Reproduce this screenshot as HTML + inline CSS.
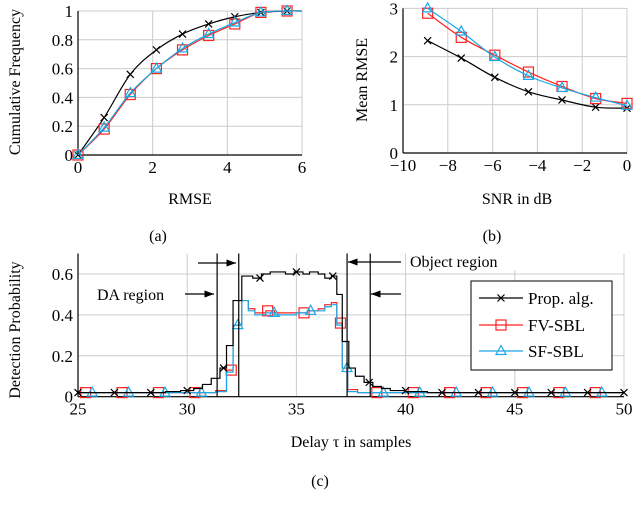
<!DOCTYPE html>
<html><head><meta charset="utf-8"><style>
html,body{margin:0;padding:0;background:#fff;}
svg{display:block;font-family:"Liberation Serif",serif;}
svg text{font-family:"Liberation Serif",serif;}
</style></head><body>
<svg id="s" width="640" height="509" viewBox="0 0 640 509" xmlns="http://www.w3.org/2000/svg"></svg>
<script>
// ---- Chart (a) data
const aX = [0,0.7,1.4,2.1,2.8,3.5,4.2,4.9,5.6];
const aProp = [0,0.26,0.56,0.73,0.84,0.91,0.96,0.99,1];
const aFV = [0,0.18,0.42,0.60,0.73,0.83,0.91,0.99,1];
const aSF = [0,0.19,0.43,0.60,0.74,0.84,0.92,0.99,1];
const aXTicks = [0,2,4,6];
const aYTicks = [0,0.2,0.4,0.6,0.8,1];
// ---- Chart (b) data
const bX = [-8.9,-7.4,-5.9,-4.4,-2.9,-1.4,0];
const bProp = [2.33,1.97,1.57,1.27,1.1,0.95,0.93];
const bFV = [2.9,2.4,2.03,1.68,1.38,1.13,1.03];
const bSF = [3.0,2.52,1.99,1.6,1.35,1.15,0.98];
const bXTicks = [-10,-8,-6,-4,-2,0];
const bYTicks = [0,1,2,3];
// ---- Chart (c) data (step change points)
const cPropX = [25,29,29.7,30.3,30.7,31.1,31.5,31.8,32.1,32.5,33.0,33.4,33.8,34.5,34.9,35.3,35.6,36.0,36.3,36.6,36.85,37.1,37.4,37.7,38.1,38.5,38.9,39.3,40,41,50];
const cPropY = [0.02,0.025,0.03,0.04,0.06,0.09,0.14,0.25,0.47,0.59,0.58,0.60,0.61,0.60,0.61,0.60,0.61,0.60,0.58,0.59,0.50,0.27,0.14,0.10,0.07,0.05,0.04,0.03,0.025,0.02,0.02];
const cFVX = [25,31.3,31.8,32.1,32.5,32.8,33.1,33.6,34.0,35.0,35.5,36.0,36.3,36.6,36.85,37.1,37.35,37.8,50];
const cFVY = [0.02,0.03,0.13,0.35,0.47,0.43,0.41,0.42,0.41,0.41,0.42,0.43,0.45,0.46,0.36,0.14,0.035,0.02,0.02];
const cSFX = [25,31.3,31.8,32.1,32.5,32.8,33.1,33.6,34.0,35.0,35.5,36.0,36.3,36.6,36.85,37.1,37.35,37.8,50];
const cSFY = [0.02,0.025,0.12,0.35,0.47,0.42,0.40,0.41,0.40,0.41,0.42,0.42,0.44,0.45,0.35,0.14,0.025,0.02,0.02];
const cXTicks = [25,30,35,40,45,50];
const cYTicks = [0,0.2,0.4,0.6];

const NS="http://www.w3.org/2000/svg";
const svg=document.getElementById('s');
function el(tag,attrs,parent){const e=document.createElementNS(NS,tag);for(const k in attrs)e.setAttribute(k,attrs[k]);(parent||svg).appendChild(e);return e;}
function txt(x,y,s,attrs,parent){const t=el('text',Object.assign({x:x,y:y,'font-size':16,fill:'#000','font-family':'Liberation Serif, serif'},attrs||{}),parent);t.textContent=s;return t;}
const BLK='#000',RED='#f22',CYA='#1aa8e6';

function marker(g,type,x,y,col){
  if(type==='x'){el('path',{d:`M${x-3.5} ${y-3.5}L${x+3.5} ${y+3.5}M${x-3.5} ${y+3.5}L${x+3.5} ${y-3.5}`,stroke:col,'stroke-width':1.2,fill:'none'},g);}
  else if(type==='s'){el('rect',{x:x-5,y:y-5,width:10,height:10,stroke:col,'stroke-width':1.2,fill:'none'},g);}
  else {el('path',{d:`M${x} ${y-5.5}L${x+5} ${y+3.5}L${x-5} ${y+3.5}Z`,stroke:col,'stroke-width':1.2,fill:'none'},g);}
}
function smooth(pts){let d=`M${pts[0][0]} ${pts[0][1]}`;for(let i=0;i<pts.length-1;i++){const p0=pts[Math.max(0,i-1)],p1=pts[i],p2=pts[i+1],p3=pts[Math.min(pts.length-1,i+2)];const c1=[p1[0]+(p2[0]-p0[0])/6,p1[1]+(p2[1]-p0[1])/6],c2=[p2[0]-(p3[0]-p1[0])/6,p2[1]-(p3[1]-p1[1])/6];d+=`C${c1[0]} ${c1[1]} ${c2[0]} ${c2[1]} ${p2[0]} ${p2[1]}`;}return d;}

function axesFrame(g,xs,ys,xT,yT,x0,x1,y0,y1,fmtX,fmtY){
  xT.forEach(v=>{el('line',{x1:xs(v),x2:xs(v),y1:ys(y0),y2:ys(y1),stroke:'#ccc','stroke-width':1},g);
    const t=txt(xs(v),ys(y0)+18,fmtX(v),{'text-anchor':'middle','font-size':17},g);});
  yT.forEach(v=>{el('line',{x1:xs(x0),x2:xs(x1),y1:ys(v),y2:ys(v),stroke:'#ccc','stroke-width':1},g);
    const t=txt(xs(x0)-5,ys(v)+6,fmtY(v),{'text-anchor':'end','font-size':17},g);});
  el('line',{x1:xs(x0),x2:xs(x0),y1:ys(y0),y2:ys(y1),stroke:'#000','stroke-width':1.2},g);
  el('line',{x1:xs(x0),x2:xs(x1),y1:ys(y0),y2:ys(y0),stroke:'#000','stroke-width':1.2},g);
}
const fmtNum=v=>(v<0?'\u2212'+Math.abs(v):String(v));

// ---- Chart (a)
{
const g=el('g',{});
const xs=v=>78+v*(224/6), ys=v=>155-v*144;
axesFrame(g,xs,ys,aXTicks,aYTicks,0,6,0,1,fmtNum,fmtNum);
[[aProp,BLK,'x'],[aFV,RED,'s'],[aSF,CYA,'t']].forEach(([arr,c,m])=>{
  const pts=aX.map((x,i)=>[xs(x),ys(arr[i])]);pts.push([xs(6),ys(1)]);
  const p=el('path',{d:smooth(pts),stroke:c,'stroke-width':1.2,fill:'none'},g);
  aX.forEach((x,i)=>marker(g,m,xs(x),ys(arr[i]),c));
});
let t=txt(190,204,'RMSE',{'text-anchor':'middle'},g);
t=txt(0,0,'Cumulative Frequency',{'text-anchor':'middle',transform:'translate(20,82) rotate(-90)'},g);
t=txt(158,241,'(a)',{'text-anchor':'middle'},g);
}
// ---- Chart (b)
{
const g=el('g',{});
const xs=v=>627+v*22.4, ys=v=>153-v*48.2;
axesFrame(g,xs,ys,bXTicks,bYTicks,-10,0,0,3,fmtNum,fmtNum);
[[bProp,BLK,'x'],[bFV,RED,'s'],[bSF,CYA,'t']].forEach(([arr,c,m])=>{
  const pts=bX.map((x,i)=>[xs(x),ys(arr[i])]);
  const p=el('path',{d:smooth(pts),stroke:c,'stroke-width':1.2,fill:'none'},g);
  bX.forEach((x,i)=>marker(g,m,xs(x),ys(arr[i]),c));
});
let t=txt(517,204,'SNR in dB',{'text-anchor':'middle'},g);
t=txt(0,0,'Mean RMSE',{'text-anchor':'middle',transform:'translate(367,80) rotate(-90)'},g);
t=txt(492,241,'(b)',{'text-anchor':'middle'},g);
}
// ---- Chart (c)
{
const g=el('g',{});
const xs=v=>78+(v-25)*21.84, ys=v=>396.7-v*204.5;
axesFrame(g,xs,ys,cXTicks,cYTicks,25,50,0,0.7,fmtNum,v=>String(v));
function stepPath(X,Y){let d=`M${xs(X[0])} ${ys(Y[0])}`;for(let i=1;i<X.length;i++){d+=`H${xs(X[i])}V${ys(Y[i])}`;}return d;}
function valAt(X,Y,x){let v=Y[0];for(let i=0;i<X.length;i++){if(X[i]<=x)v=Y[i];}return v;}
[[cFVX,cFVY,RED,'s',25.35],[cSFX,cSFY,CYA,'t',25.65],[cPropX,cPropY,BLK,'x',25]].forEach(([X,Y,c,m,off])=>{
  const p=el('path',{d:stepPath(X,Y),stroke:c,'stroke-width':1.2,fill:'none'},g);
  for(let x=off;x<=50.01;x+=5/3){marker(g,m,xs(x),ys(valAt(X,Y,x)),c);}
});
[31.37,32.36,37.32,38.38].forEach(v=>{const l=el('line',{x1:xs(v),x2:xs(v),y1:ys(0),y2:ys(0.7),stroke:'#000','stroke-width':1.2},g);});
el('defs',{},g).innerHTML='<marker id="ah" markerWidth="8" markerHeight="6" refX="8" refY="3" orient="auto"><path d="M0 0L8 3L0 6Z" fill="#000"/></marker>';
[[198,263,236],[185,294,214],[401,262,348],[401,294,371]].forEach(([a,y,b])=>{const l=el('line',{x1:a,x2:b,y1:y,y2:y,stroke:'#000','stroke-width':1.2,'marker-end':'url(#ah)'},g);});
el('rect',{x:92,y:282,width:90,height:21,fill:'#fff'},g);
let t=txt(97,300,'DA region',{},g);
el('rect',{x:406,y:249,width:112,height:21,fill:'#fff'},g);
t=txt(410,267,'Object region',{},g);
const lg=el('g',{},g);
el('rect',{x:471,y:281,width:141,height:89,fill:'#fff',stroke:'#000','stroke-width':1},lg);
[['Prop. alg.',BLK,'x',298],['FV-SBL',RED,'s',325],['SF-SBL',CYA,'t',351]].forEach(([n,c,m,y])=>{
  const e=el('g',{},lg);
  el('line',{x1:479,x2:523,y1:y,y2:y,stroke:c,'stroke-width':1.2},e);marker(e,m,501,y,c);txt(528,y+6,n,{'font-size':17},e);
});
t=txt(351,447,'Delay \u03c4 in samples',{'text-anchor':'middle'},g);
t=txt(0,0,'Detection Probability',{'text-anchor':'middle',transform:'translate(20,330) rotate(-90)'},g);
t=txt(320,486,'(c)',{'text-anchor':'middle'},g);
}
</script>
</body></html>
